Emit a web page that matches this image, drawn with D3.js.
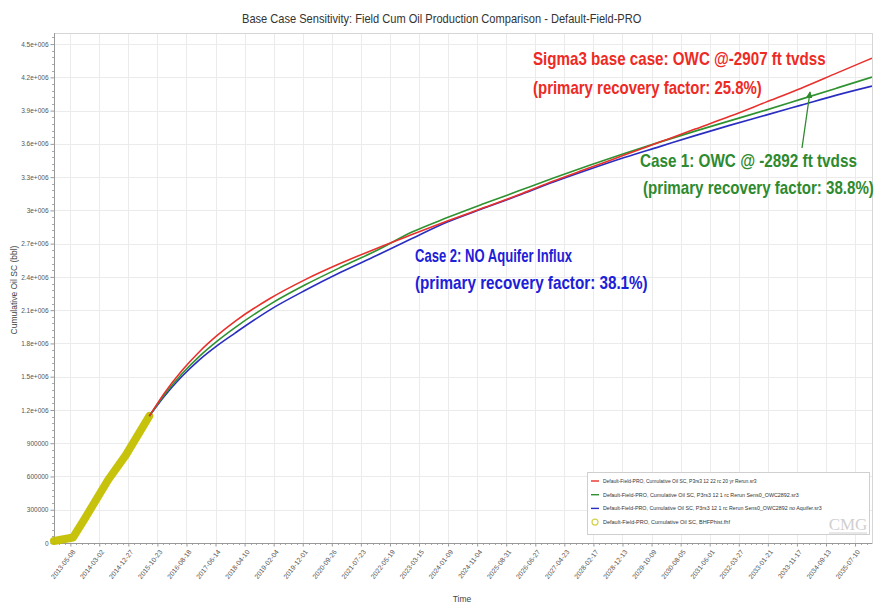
<!DOCTYPE html>
<html>
<head>
<meta charset="utf-8">
<script src="https://cdn.jsdelivr.net/npm/d3@7"></script>
<style>
  body { margin: 0; background: #fff; }
  svg { display: block; font-family: "Liberation Sans", Arial, sans-serif; }
</style>
</head>
<body>
<svg id="chart" width="880" height="606"></svg>
<script>
// ---- data ----
const xTickLabels = ["2013-05-08","2014-03-02","2014-12-27","2015-10-23","2016-08-18","2017-06-14",
  "2018-04-10","2019-02-04","2019-12-01","2020-09-26","2021-07-23","2022-05-19","2023-03-15",
  "2024-01-09","2024-11-04","2025-08-31","2026-06-27","2027-04-23","2028-02-17","2028-12-13",
  "2029-10-09","2030-08-05","2031-06-01","2032-03-27","2033-01-21","2033-11-17","2034-09-13","2035-07-10"];

const yTickValues = [0,300000,600000,900000,1200000,1500000,1800000,2100000,2400000,2700000,
  3000000,3300000,3600000,3900000,4200000,4500000];
const yTickLabels = ["0","300000","600000","900000","1.2e+006","1.5e+006","1.8e+006","2.1e+006",
  "2.4e+006","2.7e+006","3e+006","3.3e+006","3.6e+006","3.9e+006","4.2e+006","4.5e+006"];

// simulation output dates (shared by the three runs)
const simDates = ["2015-08-01","2016-01-01","2016-07-01","2017-01-01","2017-07-01","2018-01-01",
  "2019-01-01","2020-01-01","2021-01-01","2022-01-01","2023-01-01","2024-01-01","2025-01-01",
  "2026-01-01","2027-01-01","2028-01-01","2029-01-01","2030-01-01","2031-01-01","2032-01-01",
  "2033-01-01","2034-01-01","2035-01-01","2036-01-01"];

// Sigma3 base case, OWC @ -2907 ft
const cumOilBase = [1145000,1349800,1553600,1727700,1871900,1999100,2207400,2377800,2524800,
  2657300,2781700,2903500,3020700,3137900,3264200,3381400,3498600,3615800,3733000,3850300,
  3976500,4102700,4238000,4373200];
// Case 1, OWC @ -2892 ft
const cumOilOwc2892 = [1145000,1334500,1523900,1686200,1821400,1943200,2155100,2330900,2488700,
  2637500,2804300,2935000,3056800,3174000,3291200,3403900,3512100,3615800,3715000,3809700,
  3904400,4003500,4102700,4201900];
// Case 2, no aquifer influx
const cumOilNoAquifer = [1145000,1321000,1501300,1654600,1780900,1893600,2105500,2281300,2443600,
  2592400,2745700,2894500,3016200,3133400,3255100,3367900,3476100,3575200,3674400,3769100,
  3859300,3949400,4039600,4120800];

// historical (BHFPhist.fhf)
const histDates = ["2012-11-20","2013-06-05","2013-10-01","2014-06-01","2014-12-01","2015-08-01"];
const histCum   = [18000,50000,216000,568000,793000,1145000];

const legendLabels = [
  "Default-Field-PRO, Cumulative Oil SC, P3rs3 12 22 rc 20 yr Rerun.sr3",
  "Default-Field-PRO, Cumulative Oil SC, P3rs3 12 1 rc Rerun Sens0_OWC2892.sr3",
  "Default-Field-PRO, Cumulative Oil SC, P3rs3 12 1 rc Rerun Sens0_OWC2892 no Aquifer.sr3",
  "Default-Field-PRO, Cumulative Oil SC, BHFPhist.fhf"
];

// ---- layout ----
const plot = { left: 54, right: 872, top: 33, bottom: 543 };
const colors = { red: "#e8302c", green: "#2f9230", blue: "#2a2ec0", hist: "#c4c000" };

const parse = d3.utcParse("%Y-%m-%d");
const svg = d3.select("#chart");

const x = d3.scaleUtc()
  .domain([parse("2012-11-20"), parse("2036-01-01")])
  .range([plot.left, plot.right]);
const y = d3.scaleLinear()
  .domain([0, 4600000])
  .range([plot.bottom, plot.top]);

const xTicks = xTickLabels.map(parse);

// squeeze a text horizontally so it spans the given width
function fitWidth(sel, x0, y0, width, anchor) {
  sel.each(function () {
    const t = d3.select(this);
    const natural = this.getComputedTextLength();
    const sx = width / natural;
    t.attr("x", 0).attr("y", 0)
     .attr("transform", `translate(${anchor === "middle" ? x0 - width / 2 : x0},${y0}) scale(${sx},1)`)
     .attr("text-anchor", "start");
  });
  return sel;
}

// title
fitWidth(svg.append("text")
  .attr("font-size", 12.5)
  .attr("fill", "#333")
  .text("Base Case Sensitivity: Field Cum Oil Production Comparison - Default-Field-PRO"),
  442, 23, 400, "middle");

// grid
const grid = svg.append("g").attr("stroke", "#ebebeb").attr("stroke-width", 1);
grid.selectAll("line.h").data(yTickValues.slice(1)).join("line")
  .attr("x1", plot.left).attr("x2", plot.right)
  .attr("y1", d => Math.round(y(d)) + 0.5).attr("y2", d => Math.round(y(d)) + 0.5);
grid.selectAll("line.v").data(xTicks).join("line")
  .attr("y1", plot.top).attr("y2", plot.bottom)
  .attr("x1", d => Math.round(x(d)) + 0.5).attr("x2", d => Math.round(x(d)) + 0.5);

// frame
svg.append("rect")
  .attr("x", plot.left + 0.5).attr("y", plot.top + 0.5)
  .attr("width", plot.right - plot.left).attr("height", plot.bottom - plot.top)
  .attr("fill", "none").attr("stroke", "#d6d6d6");

// minor ticks
const minorY = d3.range(0, 4600001, 60000).filter(v => v % 300000 !== 0);
svg.append("g").attr("stroke", "#aaa").selectAll("line").data(minorY).join("line")
  .attr("x1", plot.left - 2).attr("x2", plot.left)
  .attr("y1", d => Math.round(y(d)) + 0.5).attr("y2", d => Math.round(y(d)) + 0.5);
const minorX = d3.utcDay.range(parse("2012-11-20"), parse("2036-01-01"), 1)
  .filter(d => Math.round((d - xTicks[0]) / 864e5) % 60 === 0)
  .filter(d => Math.round((d - xTicks[0]) / 864e5) % 300 !== 0);
svg.append("g").attr("stroke", "#aaa").selectAll("line").data(minorX).join("line")
  .attr("y1", plot.bottom).attr("y2", plot.bottom + 2)
  .attr("x1", d => Math.round(x(d)) + 0.5).attr("x2", d => Math.round(x(d)) + 0.5);

// y axis
const yAxis = svg.append("g")
  .attr("transform", `translate(${plot.left + 0.5},0)`)
  .call(d3.axisLeft(y).tickValues(yTickValues).tickFormat((d, i) => yTickLabels[i]).tickSize(4).tickPadding(2));
yAxis.select(".domain").attr("stroke", "#999").attr("d", `M0,${plot.top}V${plot.bottom}`);
yAxis.selectAll(".tick line").attr("stroke", "#999");
yAxis.selectAll(".tick text").attr("font-size", 6.5).attr("fill", "#555")
  .attr("font-family", "'Liberation Sans', Arial, sans-serif");

// x axis
const xAxis = svg.append("g")
  .attr("transform", `translate(0,${plot.bottom + 0.5})`)
  .call(d3.axisBottom(x).tickValues(xTicks).tickFormat(d3.utcFormat("%Y-%m-%d")).tickSize(3));
xAxis.select(".domain").attr("stroke", "#999").attr("d", `M${plot.left},0H${plot.right}`);
xAxis.selectAll(".tick line").attr("stroke", "#999");
xAxis.selectAll(".tick text")
  .attr("font-size", 6.8).attr("fill", "#555")
  .attr("font-family", "'Liberation Sans', Arial, sans-serif")
  .attr("text-anchor", "end")
  .attr("x", 0).attr("y", 0).attr("dy", "0.35em")
  .attr("transform", "translate(3,7) rotate(-52)");

// axis titles
svg.append("text")
  .attr("transform", "translate(17,290) rotate(-90)")
  .attr("text-anchor", "middle").attr("font-size", 8.5).attr("fill", "#444")
  .text("Cumulative Oil SC (bbl)");
svg.append("text")
  .attr("x", 462).attr("y", 602)
  .attr("text-anchor", "middle").attr("font-size", 8.5).attr("fill", "#444")
  .text("Time");

// series
const line = d3.line().x(d => x(d[0])).y(d => y(d[1])).curve(d3.curveMonotoneX);
const series = [
  { values: cumOilBase, color: colors.red },
  { values: cumOilOwc2892, color: colors.green },
  { values: cumOilNoAquifer, color: colors.blue }
];
const histPts = histDates.map((d, i) => [parse(d), histCum[i]]);
svg.append("path")
  .datum(histPts)
  .attr("fill", "none").attr("stroke", colors.hist)
  .attr("stroke-width", 8).attr("stroke-linejoin", "round").attr("stroke-linecap", "round")
  .attr("opacity", 0.95)
  .attr("d", d3.line().x(d => x(d[0])).y(d => y(d[1])));

svg.append("clipPath").attr("id", "plotclip").append("rect")
  .attr("x", plot.left).attr("y", plot.top)
  .attr("width", plot.right - plot.left).attr("height", plot.bottom - plot.top);

series.slice().reverse().forEach(s => {
  svg.append("path")
    .datum(simDates.map((d, i) => [parse(d), s.values[i]]))
    .attr("clip-path", "url(#plotclip)")
    .attr("fill", "none").attr("stroke", s.color).attr("stroke-width", 1.6)
    .attr("d", line);
});

// annotations
const notes = [
  { text: "Sigma3 base case: OWC @-2907 ft tvdss", x: 533, y: 65, w: 293, color: "#ee2a24" },
  { text: "(primary recovery factor: 25.8%)", x: 533, y: 94, w: 229, color: "#ee2a24" },
  { text: "Case 1: OWC @ -2892 ft tvdss", x: 640, y: 167, w: 217, color: "#2e8a2e" },
  { text: "(primary recovery factor: 38.8%)", x: 643, y: 194, w: 231, color: "#2e8a2e" },
  { text: "Case 2: NO Aquifer Influx", x: 415, y: 262, w: 157, color: "#1c20d8" },
  { text: "(primary recovery factor: 38.1%)", x: 415, y: 289, w: 233, color: "#1c20d8" }
];
const noteG = svg.append("g");
notes.forEach(n => {
  fitWidth(noteG.append("text")
    .attr("fill", n.color)
    .attr("font-family", "'Liberation Sans', Arial, sans-serif")
    .attr("font-weight", "bold").attr("font-size", 18)
    .text(n.text), n.x, n.y, n.w, "start");
});

// arrow from Case 1 label to its curve
svg.append("defs").append("marker")
  .attr("id", "arrowhead").attr("viewBox", "0 0 10 10")
  .attr("refX", 9).attr("refY", 5)
  .attr("markerWidth", 5).attr("markerHeight", 5)
  .attr("orient", "auto")
  .append("path").attr("d", "M0,0L10,5L0,10Z").attr("fill", "#2e8a2e");
svg.append("line")
  .attr("x1", 802).attr("y1", 148).attr("x2", 810).attr("y2", 92)
  .attr("stroke", "#2e8a2e").attr("stroke-width", 1.3)
  .attr("marker-end", "url(#arrowhead)");

// legend
const lg = svg.append("g");
lg.append("rect").attr("x", 587.5).attr("y", 472.5).attr("width", 282).attr("height", 62)
  .attr("fill", "#fff").attr("stroke", "#cfcfcf");
const legendColors = [colors.red, colors.green, colors.blue, null];
const legendWidths = [154, 196, 219, 127];
legendLabels.forEach((t, i) => {
  const ly = 481 + i * 13.7;
  if (legendColors[i]) {
    lg.append("line").attr("x1", 591).attr("x2", 599).attr("y1", ly).attr("y2", ly)
      .attr("stroke", legendColors[i]).attr("stroke-width", 1.4);
  } else {
    lg.append("circle").attr("cx", 595).attr("cy", ly).attr("r", 3)
      .attr("fill", "none").attr("stroke", "#d4d24a").attr("stroke-width", 1.2);
  }
  fitWidth(lg.append("text")
    .attr("font-size", 5.6).attr("fill", "#333")
    .text(t), 603, ly + 2, legendWidths[i], "start");
});
lg.append("text").attr("x", 848).attr("y", 530).attr("text-anchor", "middle")
  .attr("font-family", "'Liberation Serif', 'DejaVu Serif', serif")
  .attr("font-size", 17).attr("fill", "#d0d0d0").text("CMG");
lg.append("line").attr("x1", 829).attr("x2", 867).attr("y1", 533).attr("y2", 533)
  .attr("stroke", "#d0d0d0");
</script>
</body>
</html>
